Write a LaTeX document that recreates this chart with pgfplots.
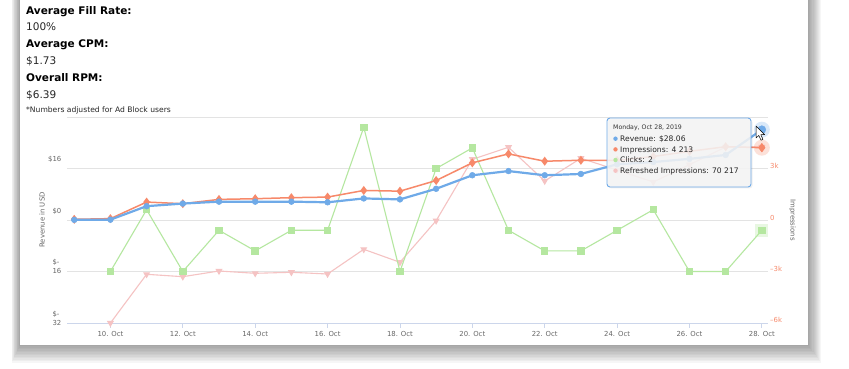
\documentclass[border=0pt]{standalone}
\usepackage{fontspec}
\setmainfont{DejaVu Sans}
\usepackage{pgfplots}
\pgfplotsset{compat=1.18}
\definecolor{rev}{HTML}{6FAAE8}
\definecolor{imp}{HTML}{F7896A}
\definecolor{clk}{HTML}{B5E7A0}
\definecolor{ref}{HTML}{F5C3C3}
\definecolor{gridc}{HTML}{E3E3E3}
\definecolor{axisc}{HTML}{CCD6EB}
\definecolor{labc}{HTML}{666666}
\newcommand{\tickfont}{\fontsize{6.9}{9}\selectfont}
\pgfplotstableread{
x y
9 0.05
10 0.1
11 4.3
12 5.1
13 5.7
14 5.7
15 5.7
16 5.5
17 6.7
18 6.4
19 9.7
20 13.9
21 15.2
22 13.9
23 14.3
24 17.3
25 18.0
26 19.0
27 20.2
28 28.06
}\revenue
\pgfplotstableread{
x y
9 40
10 80
11 1045
12 950
13 1200
14 1240
15 1300
16 1335
17 1720
18 1680
19 2300
20 3330
21 3850
22 3425
23 3480
24 3470
25 3700
26 4000
27 4270
28 4213
}\impressions
\pgfplotstableread{
x y
10 0
11 3
12 0
13 2
14 1
15 2
16 2
17 7
18 0
19 5
20 6
21 2
22 1
23 1
24 2
25 3
26 0
27 0
28 2
}\clicks
\pgfplotstableread{
x y
10 0
11 19430
12 18480
13 20750
14 19830
15 20230
16 19550
17 29400
18 24220
19 40820
20 65320
21 70110
22 56660
23 65720
24 61050
25 56260
26 63170
27 70230
28 70217
}\refreshed
\pgfplotsset{myax/.style={at={(67pt,46pt)}, anchor=south west, scale only axis,
  width=701pt, height=206pt, xmin=8.8, xmax=28.17, clip=false}}
\begin{document}
\begin{tikzpicture}
\begin{scope}[x=1pt,y=1pt]
\path (0,0) rectangle (849,369);
% window shadow and box
\foreach \i in {1,...,12} {
  \fill[black, opacity=0.035] ({20-\i*0.7},{24-\i*1.5}) rectangle ({808+\i*1.1},369);
}
\fill[white] (20,24) rectangle (808,369);
% header text
\node[anchor=base west, inner sep=0pt, font=\fontsize{10.5}{12}\selectfont\bfseries] at (26,354) {Average Fill Rate:};
\node[anchor=base west, inner sep=0pt, font=\fontsize{10.5}{12}\selectfont, text=black!85] at (26,338) {100\%};
\node[anchor=base west, inner sep=0pt, font=\fontsize{10.5}{12}\selectfont\bfseries] at (26,321) {Average CPM:};
\node[anchor=base west, inner sep=0pt, font=\fontsize{10.5}{12}\selectfont, text=black!85] at (26,304) {\$1.73};
\node[anchor=base west, inner sep=0pt, font=\fontsize{10.5}{12}\selectfont\bfseries] at (26,287) {Overall RPM:};
\node[anchor=base west, inner sep=0pt, font=\fontsize{10.5}{12}\selectfont, text=black!85] at (26,270) {\$6.39};
\node[anchor=base west, inner sep=0pt, font=\fontsize{7.6}{9}\selectfont, text=black!85] at (26,256) {*Numbers adjusted for Ad Block users};
\end{scope}
% main (left) axis: grid, labels
\begin{axis}[myax, ymin=-32, ymax=32,
  axis line style={draw=none},
  xtick={10,12,...,28},
  xticklabels={10. Oct,12. Oct,14. Oct,16. Oct,18. Oct,20. Oct,22. Oct,24. Oct,26. Oct,28. Oct},
  ytick={-32,-16,0,16,32},
  yticklabels={{\begin{tabular}[t]{@{}l@{}}\$-\\32\end{tabular}},{\begin{tabular}[t]{@{}l@{}}\$-\\16\end{tabular}},\$0,\$16,{}},
  ymajorgrids, grid style={color=gridc, line width=0.8pt},
  xtick pos=bottom, ytick pos=left,
  tick align=outside, major tick length=5pt,
  xtick style={color=axisc, line width=0.8pt},
  ytick style={draw=none},
  xticklabel style={font=\tickfont, text=labc, inner sep=0pt, anchor=base, yshift=-8.5pt},
  yticklabel style={font=\tickfont, text=labc, inner sep=0pt, anchor=base east, yshift=6.5pt, xshift=-0.5pt},
  ylabel={Revenue in USD},
  every axis y label/.style={at={(rel axis cs:0,0.5)}, xshift=-25pt, rotate=90, anchor=center, font=\tickfont, text=labc},
]
\draw[axisc, line width=0.8pt] (rel axis cs:0,0) -- (rel axis cs:1,0);
\end{axis}
% right impressions axis labels
\begin{axis}[myax, ymin=-6000, ymax=6000,
  hide x axis, axis y line*=right, y axis line style={draw=none},
  ytick={-6000,-3000,0,3000}, yticklabels={--6k,--3k,0,3k},
  ytick style={draw=none}, scaled y ticks=false,
  yticklabel style={font=\tickfont, text=imp, inner sep=0pt, anchor=base west, xshift=2pt, yshift=0pt},
  ylabel={Impressions},
  every axis y label/.style={at={(rel axis cs:1,0.5)}, xshift=24.5pt, rotate=-90, anchor=center, font=\tickfont, text=labc},
]
\end{axis}
% refreshed impressions (hidden axis)
\begin{axis}[myax, hide axis, ymin=0, ymax=82200]
\addplot[ref, line width=1.1pt, mark=triangle*, mark size=3pt, mark options={rotate=180, fill=ref, draw=ref}] table {\refreshed};
\end{axis}
% clicks (hidden axis)
\begin{axis}[myax, hide axis, ymin=-2.5, ymax=7.5]
\addplot[clk, line width=1.1pt, mark=square*, mark size=3.2pt, mark options={fill=clk, draw=clk}] table {\clicks};
\addplot[clk, only marks, mark=square*, mark size=6.5pt, mark options={fill=clk, draw=clk, fill opacity=0.3, draw opacity=0}] coordinates {(28,2)};
\end{axis}
% impressions
\begin{axis}[myax, hide axis, ymin=-6000, ymax=6000]
\addplot[imp, line width=1.5pt, mark=diamond*, mark size=3.3pt, mark options={fill=imp, draw=imp}] table {\impressions};
\addplot[imp, only marks, mark=*, mark size=8pt, mark options={fill=imp, draw=imp, fill opacity=0.25, draw opacity=0}] coordinates {(28,4213)};
\addplot[imp, only marks, mark=diamond*, mark size=4.2pt, mark options={fill=imp, draw=imp}] coordinates {(28,4213)};
\end{axis}
% revenue
\begin{axis}[myax, hide axis, ymin=-32, ymax=32]
\addplot[rev, line width=2.2pt, mark=*, mark size=2.9pt, mark options={fill=rev, draw=rev, line width=0.5pt}] table {\revenue};
\addplot[rev, only marks, mark=*, mark size=8pt, mark options={fill=rev, draw=rev, fill opacity=0.25, draw opacity=0}] coordinates {(28,28.06)};
\addplot[rev, only marks, mark=*, mark size=4pt, mark options={fill=rev, draw=rev}] coordinates {(28,28.06)};
\end{axis}
\begin{scope}[x=1pt,y=1pt]
% tooltip
\fill[black, opacity=0.06, rounded corners=3pt] (608.5,180.5) rectangle (752.5,249.5);
\filldraw[fill=white!96!black, fill opacity=0.88, draw=rev, line width=0.9pt, rounded corners=3pt] (607,182) rectangle (751,251);
\node[anchor=base west, inner sep=0pt, font=\fontsize{6.2}{7}\selectfont, text=black!80] at (613,239) {Monday, Oct 28, 2019};
\fill[rev] (615.5,230.3) circle (2.2);
\node[anchor=base west, inner sep=0pt, font=\fontsize{7.6}{9}\selectfont, text=black!85] at (620,227.5) {Revenue: \$28.06};
\fill[imp] (615.5,219.6) circle (2.2);
\node[anchor=base west, inner sep=0pt, font=\fontsize{7.6}{9}\selectfont, text=black!85] at (620,216.8) {Impressions: 4 213};
\fill[clk] (615.5,209) circle (2.2);
\node[anchor=base west, inner sep=0pt, font=\fontsize{7.6}{9}\selectfont, text=black!85] at (620,206.2) {Clicks: 2};
\fill[ref] (615.5,198.3) circle (2.2);
\node[anchor=base west, inner sep=0pt, font=\fontsize{7.6}{9}\selectfont, text=black!85] at (620,195.5) {Refreshed Impressions: 70 217};
% mouse cursor
\filldraw[fill=white, draw=black, line width=0.5pt, line join=round]
  (756,143) ++(0,100) -- ++(0,-12) -- ++(2.8,2.6) -- ++(2.2,-4.8) -- ++(2,0.8) -- ++(-2.2,4.7) -- ++(3.8,0) -- cycle;
\end{scope}
\end{tikzpicture}
\end{document}
